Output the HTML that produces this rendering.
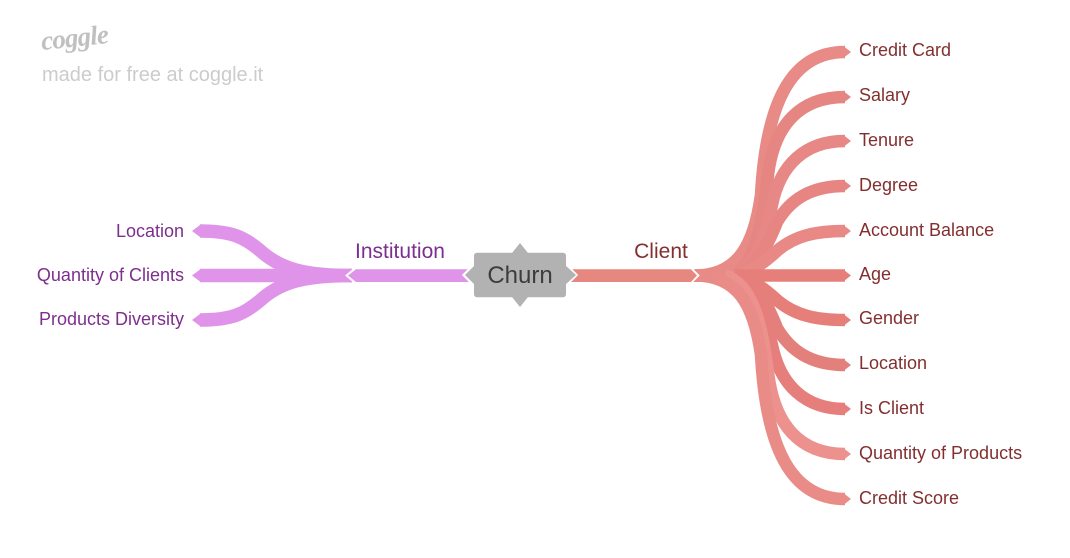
<!DOCTYPE html>
<html>
<head>
<meta charset="utf-8">
<style>
html,body{margin:0;padding:0;background:#fff;width:1070px;height:558px;overflow:hidden}
svg{display:block}
text{font-family:"Liberation Sans",sans-serif}
.r{font-size:18px;fill:#832f2f}
.p{font-size:18px;fill:#7d2e8e;text-anchor:end}
path{fill:none;stroke-linecap:butt}
</style>
</head>
<body>
<svg width="1070" height="558" viewBox="0 0 1070 558" xmlns="http://www.w3.org/2000/svg">
<rect width="1070" height="558" fill="#fff"/>

<text x="42" y="50" transform="rotate(-6 42 50)" style="font-family:'Liberation Serif',serif;font-style:italic;font-weight:bold;font-size:27px;letter-spacing:-0.8px;fill:#c0c0c0">coggle</text>
<text x="42" y="81" style="font-size:20px;fill:#cccccc">made for free at coggle.it</text>

<!-- Purple branches -->
<g stroke="#df94e9" stroke-width="13.5">
<path d="M352,275.5 C305,275.5 282,269 263,253 C245,237 232,231 200,231"/>
<path d="M352,275.5 L200,275.5"/>
<path d="M352,275.5 C305,275.5 282,282 263,298 C245,314 232,320 200,320"/>
</g>
<g fill="#df94e9">
<polygon points="192,231 201,224.3 201,237.7"/>
<polygon points="192,275.5 201,268.8 201,282.2"/>
<polygon points="192,320 201,313.3 201,326.7"/>
</g>
<polyline points="356,268 347,275.5 356,283" fill="none" stroke="#fff" stroke-width="2.5"/>
<polygon points="348,275.5 356,269.3 470,269.3 470,282 356,282" fill="#df94e9"/>

<!-- Red branches -->
<g stroke-width="12.5">
<path stroke="#e88a85" d="M695,275.5 C738,275.5 754,245 761,195 C766,105 790,52 845,52"/>
<path stroke="#e68683" d="M735,275.5 C755,262 762,225 768,175 C774,125 800,97 845,97"/>
<path stroke="#e88886" d="M735,275.5 C758,262 766,235 772,205 C780,165 805,141 845,141"/>
<path stroke="#e68582" d="M735,275.5 C758,265 768,245 777,222 C790,200 810,186 845,186"/>
<path stroke="#e98985" d="M735,275.5 C755,270 765,262 778,250 C795,236 815,231 845,231"/>
<path stroke="#e67f7a" d="M735,275.5 L845,275.5"/>
<path stroke="#e67f7a" d="M735,275.5 C755,281 765,289 778,301 C795,315 815,320 845,320"/>
<path stroke="#e4807c" d="M735,275.5 C758,285 768,305 777,328 C790,350 810,365 845,365"/>
<path stroke="#e67f7c" d="M735,275.5 C758,288 766,320 772,345 C780,385 805,409 845,409"/>
<path stroke="#ec918d" d="M725,275.5 C755,285 762,330 768,372 C774,425 800,454 845,454"/>
<path stroke="#e98c88" d="M695,275.5 C738,275.5 754,305 761,355 C766,446 790,499 845,499"/>
</g>
<g>
<polygon points="851,52 843,45.8 843,58.2" fill="#e88a85"/>
<polygon points="851,97 843,90.8 843,103.2" fill="#e68683"/>
<polygon points="851,141 843,134.8 843,147.2" fill="#e88886"/>
<polygon points="851,186 843,179.8 843,192.2" fill="#e68582"/>
<polygon points="851,231 843,224.8 843,237.2" fill="#e98985"/>
<polygon points="851,275.5 843,269.3 843,281.7" fill="#e67f7a"/>
<polygon points="851,320 843,313.8 843,326.2" fill="#e67f7a"/>
<polygon points="851,365 843,358.8 843,371.2" fill="#e4807c"/>
<polygon points="851,409 843,402.8 843,415.2" fill="#e67f7c"/>
<polygon points="851,454 843,447.8 843,460.2" fill="#ec918d"/>
<polygon points="851,499 843,492.8 843,505.2" fill="#e98c88"/>
</g>
<rect x="692" y="269.3" width="20" height="12.7" fill="#e88a85"/>
<polyline points="690,267.5 698,275.5 690,283.5" fill="none" stroke="#fff" stroke-width="2.5"/>
<polygon points="570,269.3 691,269.3 697,275.5 691,282 570,282" fill="#e68780"/>

<!-- Center node -->
<polygon points="520,243 528,253 566,253 566,265 576,275 566,285 566,297 528,297 520,307 512,297 474,297 474,285 464,275 474,265 474,253 512,253" fill="#b2b2b2" stroke="#fff" stroke-width="3" stroke-linejoin="miter"/>
<polygon points="520,243 528,253 512,253" fill="#b2b2b2"/>
<polygon points="520,307 528,297 512,297" fill="#b2b2b2"/>
<rect x="474" y="252.7" width="92" height="44.5" rx="3" fill="#b2b2b2"/>
<polygon points="465,275 475,265 475,285" fill="#b2b2b2"/>
<polygon points="576,275 565,265 565,285" fill="#b2b2b2"/>
<text x="520" y="283" text-anchor="middle" style="font-size:24px;fill:#3d3d3d">Churn</text>

<text x="400" y="258" text-anchor="middle" style="font-size:21px;fill:#7d2e8e">Institution</text>
<text x="661" y="258" text-anchor="middle" style="font-size:21px;fill:#832f2f">Client</text>

<text class="p" x="184" y="237">Location</text>
<text class="p" x="184" y="281">Quantity of Clients</text>
<text class="p" x="184" y="325">Products Diversity</text>

<text class="r" x="859" y="56">Credit Card</text>
<text class="r" x="859" y="101">Salary</text>
<text class="r" x="859" y="146">Tenure</text>
<text class="r" x="859" y="191">Degree</text>
<text class="r" x="859" y="236">Account Balance</text>
<text class="r" x="859" y="280">Age</text>
<text class="r" x="859" y="324">Gender</text>
<text class="r" x="859" y="369">Location</text>
<text class="r" x="859" y="414">Is Client</text>
<text class="r" x="859" y="459">Quantity of Products</text>
<text class="r" x="859" y="504">Credit Score</text>
</svg>
</body>
</html>
